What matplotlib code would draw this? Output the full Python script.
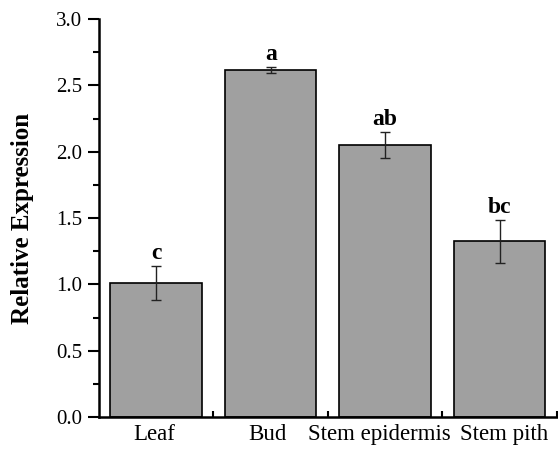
import matplotlib
matplotlib.use("Agg")
import matplotlib.pyplot as plt
import matplotlib.transforms as mtransforms
import numpy as np

categories = ["Leaf", "Bud", "Stem epidermis", "Stem pith"]
values = [1.01, 2.615, 2.05, 1.325]
errors = [0.13, 0.025, 0.10, 0.162]
letters = ["c", "a", "ab", "bc"]
yticks = [0.0, 0.5, 1.0, 1.5, 2.0, 2.5, 3.0]

plt.rcParams['font.family'] = ['Liberation Serif', 'DejaVu Serif']

fig = plt.figure(figsize=(5.58, 4.55), dpi=100)
ax = fig.add_axes([0.1774, 0.0835, 0.8206, 0.8745])

x = np.arange(len(categories))
ax.bar(x, values, width=0.8, color="#a0a0a0", edgecolor="black", linewidth=1.2, zorder=2)
ax.errorbar(x, values, yerr=errors, fmt="none", ecolor="#222222", elinewidth=1.0,
            capsize=3.6, capthick=1.0, zorder=3)
for xi, v, e, t in zip(x, values, errors, letters):
    ax.text(xi, v + e + 0.015, t, ha="center", va="bottom", fontsize=17, fontweight="bold")

ax.set_xlim(-0.5, 3.5)
ax.set_ylim(0, 3.0)
ax.set_yticks(yticks)
ax.set_yticklabels([f"{t:.1f}" for t in yticks], fontsize=15)
ax.set_yticks(np.arange(0.25, 3.0, 0.5), minor=True)
ax.tick_params(axis="y", which="major", direction="out", length=8, width=1.5, pad=4)
ax.tick_params(axis="y", which="minor", direction="out", length=4, width=1.5)

ax.set_xticks(x)
ax.set_xticklabels(categories, fontsize=16.5)
ax.set_xticks([0.5, 1.5, 2.5, 3.5], minor=True)
ax.tick_params(axis="x", which="major", length=0, pad=5)
ax.tick_params(axis="x", which="minor", direction="in", length=4, width=1.5)

shifts_px = [-2, -3, -6, 4]
for lab, dx in zip(ax.get_xticklabels(), shifts_px):
    lab.set_transform(lab.get_transform() + mtransforms.ScaledTranslation(dx / 100, 0, fig.dpi_scale_trans))

for s in ["top", "right"]:
    ax.spines[s].set_visible(False)
for s in ["left", "bottom"]:
    ax.spines[s].set_linewidth(1.8)

ax.set_ylabel("Relative Expression", fontsize=18, fontweight="bold", labelpad=16)

fig.savefig("out.png", dpi=100)
